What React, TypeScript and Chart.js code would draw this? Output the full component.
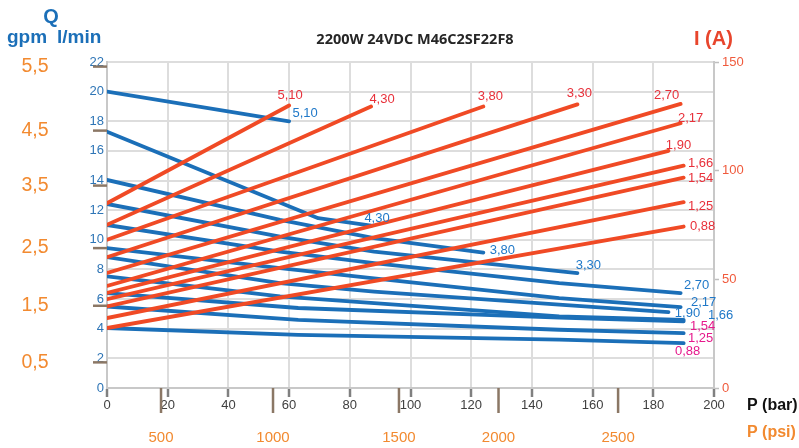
import React, { useEffect, useRef } from "react";
import { Chart, registerables } from "chart.js";

Chart.register(...registerables);

// ---- data ----
const models = ["5,10", "4,30", "3,80", "3,30", "2,70", "2,17", "1,90", "1,66", "1,54", "1,25", "0,88"];

// flow Q (l/min) vs pressure P (bar): [P, Q]
const flow510 = [[0, 20], [60, 18]];
const flow430 = [[0, 17.3], [69.6, 11.46], [87, 10.95]];
const flow380 = [[0, 14.04], [57, 11.35], [88, 10.11], [124, 9.14]];
const flow330 = [[0, 12.42], [57, 10.22], [88, 9.21], [155, 7.75]];
const flow270 = [[0, 11.0], [57, 9.21], [88, 8.43], [149, 7.08], [189, 6.4]];
const flow217 = [[0, 9.44], [57, 8.09], [88, 7.4], [149, 6.07], [189, 5.46]];
const flow190 = [[0, 8.83], [57, 7.08], [88, 6.51], [149, 5.62], [185, 5.12]];
const flow166 = [[0, 7.53], [57, 6.18], [149, 4.83], [190, 4.6]];
const flow154 = [[0, 6.4], [63, 5.4], [149, 4.75], [190, 4.5]];
const flow125 = [[0, 5.5], [63, 4.6], [149, 3.93], [190, 3.7]];
const flow088 = [[0, 4.05], [63, 3.59], [149, 3.26], [190, 3.03]];
const flowCurves = [flow510, flow430, flow380, flow330, flow270, flow217, flow190, flow166, flow154, flow125, flow088];

// current I (A) vs pressure: straight from 0 bar to max pressure
const currentStart = [85, 75.1, 68.2, 60.2, 52.9, 47.0, 43.7, 40.9, 37.5, 32.2, 27.6];
const currentEnd = [130, 129.5, 129.5, 130.5, 130.7, 121.8, 109.1, 102.3, 96.8, 85.5, 74.3];
const maxPressure = [60, 87, 124, 155, 189, 189, 185, 190, 190, 190, 190];

// secondary scales
const gpmLabels = ["0,5", "1,5", "2,5", "3,5", "4,5", "5,5"];
const gpmTickAt = [1.73, 5.55, 9.44, 13.66, 17.37, 21.69]; // in l/min
const psiLabels = ["500", "1000", "1500", "2000", "2500"];
const psiTickAt = [17.8, 54.7, 96.2, 129.0, 168.4]; // in bar

const titleText = "2200W 24VDC M46C2SF22F8";

// ---- styles ----
const BLUE = "#1b6fb8";
const RED = "#f04a25";
const BLUE_TXT = "#1f78c8";
const RED_TXT = "#e8303a";
const PINK_TXT = "#e6198c";
const ORANGE = "#f28a30";
const BROWN = "#8b7765";
const FONT = "'Liberation Sans', Arial, sans-serif";

const redLabelOffset = [[1, -10], [11, -7], [7, -10], [2, -11], [-14, -9], [10, -5], [10, -5], [17, -2], [17, 1], [17, 4], [19, 0]];
const blueLabelOffset = [[16, -8], [6, -7], [19, -2], [11, -8], [16, -8], [23, -5], [19, 1], [37, -4], [19, 5], [17, 5], [4, 8]];
const blueLabelColor = [BLUE_TXT, BLUE_TXT, BLUE_TXT, BLUE_TXT, BLUE_TXT, BLUE_TXT, BLUE_TXT, BLUE_TXT, PINK_TXT, PINK_TXT, PINK_TXT];

const overlay = {
  id: "overlay",
  afterDraw(chart: any) {
    const ctx = chart.ctx;
    const xs = chart.scales.x;
    const ys = chart.scales.y;
    const yi = chart.scales.yI;
    const area = chart.chartArea;
    ctx.save();

    // brown gpm ticks
    ctx.strokeStyle = BROWN;
    ctx.lineWidth = 2.5;
    gpmTickAt.forEach((v) => {
      const py = ys.getPixelForValue(v);
      ctx.beginPath();
      ctx.moveTo(93, py);
      ctx.lineTo(area.left, py);
      ctx.stroke();
    });
    // brown psi ticks
    psiTickAt.forEach((v) => {
      const px = xs.getPixelForValue(v);
      ctx.beginPath();
      ctx.moveTo(px, area.bottom);
      ctx.lineTo(px, area.bottom + 25);
      ctx.stroke();
    });

    // gpm labels
    ctx.fillStyle = ORANGE;
    ctx.font = `19.5px ${FONT}`;
    ctx.textAlign = "center";
    ctx.textBaseline = "middle";
    gpmLabels.forEach((t, i) => {
      ctx.fillText(t, 35, ys.getPixelForValue(gpmTickAt[i]));
    });
    // psi labels
    ctx.font = `15px ${FONT}`;
    psiLabels.forEach((t, i) => {
      ctx.fillText(t, xs.getPixelForValue(psiTickAt[i]), 438);
    });

    // axis titles
    ctx.textAlign = "left";
    ctx.font = `bold 16px ${FONT}`;
    ctx.fillStyle = "#111111";
    ctx.fillText("P (bar)", 747, 406);
    ctx.fillStyle = ORANGE;
    ctx.fillText("P (psi)", 747, 433);

    ctx.fillStyle = BLUE;
    ctx.font = `bold 20px ${FONT}`;
    ctx.textAlign = "center";
    ctx.fillText("Q", 51, 17);
    ctx.font = `bold 19px ${FONT}`;
    ctx.textAlign = "left";
    ctx.fillText("gpm", 7, 38);
    ctx.fillText("l/min", 57, 38);

    ctx.fillStyle = "#e8452c";
    ctx.font = `bold 20px ${FONT}`;
    ctx.fillText("I (A)", 694, 39);

    ctx.fillStyle = "#262626";
    ctx.font = `bold 14.5px 'Open Sans', ${FONT}`;
    ctx.textAlign = "center";
    ctx.fillText(titleText, 415, 40);

    // curve labels
    ctx.font = `13px ${FONT}`;
    ctx.textAlign = "center";
    models.forEach((m, i) => {
      const pEnd = maxPressure[i];
      const rx = xs.getPixelForValue(pEnd);
      const ry = yi.getPixelForValue(currentEnd[i]);
      ctx.fillStyle = RED_TXT;
      ctx.fillText(m, rx + redLabelOffset[i][0], ry + redLabelOffset[i][1]);
      const fc = flowCurves[i];
      const last = fc[fc.length - 1];
      const bx = xs.getPixelForValue(last[0]);
      const by = ys.getPixelForValue(last[1]);
      ctx.fillStyle = blueLabelColor[i];
      ctx.fillText(m, bx + blueLabelOffset[i][0], by + blueLabelOffset[i][1]);
    });

    ctx.restore();
  },
};

export default function App() {
  const ref = useRef<HTMLCanvasElement | null>(null);
  useEffect(() => {
    if (!ref.current) return;
    const datasets: any[] = [];
    models.forEach((m, i) => {
      datasets.push({
        label: "I " + m,
        data: [
          { x: 0, y: currentStart[i] },
          { x: maxPressure[i], y: currentEnd[i] },
        ],
        yAxisID: "yI",
        borderColor: RED,
        borderWidth: 3.8,
        borderCapStyle: "round",
        pointRadius: 0,
        order: 0,
      });
    });
    models.forEach((m, i) => {
      datasets.push({
        label: "Q " + m,
        data: flowCurves[i].map((p) => ({ x: p[0], y: p[1] })),
        yAxisID: "y",
        borderColor: BLUE,
        borderWidth: 3.8,
        borderCapStyle: "round",
        borderJoinStyle: "round",
        pointRadius: 0,
        order: 1,
      });
    });

    const chart = new Chart(ref.current, {
      type: "line",
      data: { datasets },
      plugins: [overlay],
      options: {
        animation: false,
        responsive: false,
        devicePixelRatio: 1,
        layout: { padding: { top: 62, left: 0, right: 0, bottom: 0 } },
        plugins: { legend: { display: false }, tooltip: { enabled: false }, title: { display: false } },
        scales: {
          x: {
            type: "linear",
            min: 0,
            max: 200,
            ticks: { stepSize: 20, color: "#404040", font: { size: 13, family: FONT }, padding: 1, maxRotation: 0, autoSkip: false },
            grid: { color: "#dddddd", lineWidth: 2, tickLength: 9, tickColor: "#808080", tickWidth: 2.5 },
            border: { color: "#c8c8c8", width: 2 },
            afterFit: (s: any) => { s.height = 60; },
          },
          y: {
            type: "linear",
            position: "left",
            min: 0,
            max: 22,
            ticks: { stepSize: 2, color: "#2e75b6", font: { size: 13, family: FONT }, padding: 3 },
            grid: { color: "#dddddd", lineWidth: 2, drawTicks: false },
            border: { color: "#c8c8c8", width: 2 },
            afterFit: (s: any) => { s.width = 107; },
          },
          yI: {
            type: "linear",
            position: "right",
            min: 0,
            max: 150,
            ticks: { stepSize: 50, color: "#f05a3c", font: { size: 13, family: FONT }, padding: 3 },
            grid: { drawOnChartArea: false, tickLength: 5, tickColor: "#bfbfbf", tickWidth: 1.5 },
            border: { color: "#c8c8c8", width: 2 },
            afterFit: (s: any) => { s.width = 85; },
          },
        },
      },
    });
    return () => chart.destroy();
  }, []);

  return (
    <div style={{ position: "fixed", left: 0, top: 0, width: 799, height: 448, background: "#ffffff" }}>
      <canvas ref={ref} width={799} height={448} style={{ width: 799, height: 448, display: "block" }} />
    </div>
  );
}
